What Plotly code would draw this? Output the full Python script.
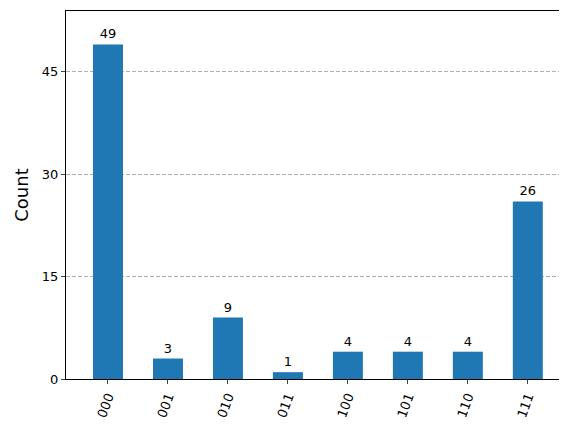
import plotly.graph_objects as go

states = ["000", "001", "010", "011", "100", "101", "110", "111"]
counts = [49, 3, 9, 1, 4, 4, 4, 26]
yticks = [0, 15, 30, 45]

fig = go.Figure(go.Bar(
    x=list(range(len(states))), y=counts, width=0.5,
    marker=dict(color="#1f77b4", line=dict(width=0)),
    text=[str(c) for c in counts], textposition="outside",
    textfont=dict(family="DejaVu Sans", size=13, color="black"),
    cliponaxis=False,
))
fig.update_layout(
    width=567, height=429, plot_bgcolor="white", paper_bgcolor="white",
    margin=dict(l=58, r=10, t=3, b=58),
    font=dict(family="DejaVu Sans", size=13, color="black"),
    showlegend=False,
)
fig.update_xaxes(
    range=[-0.7, 7.62], tickmode="array", tickvals=list(range(len(states))),
    ticktext=states, tickangle=-70, ticks="outside", ticklen=4,
    showline=True, linecolor="black", mirror=True, showgrid=False, zeroline=False,
    automargin=False,
)
fig.update_yaxes(
    range=[0, 53.9], tickvals=yticks, ticks="outside", ticklen=4,
    showline=True, linecolor="black", mirror=True,
    showgrid=True, gridcolor="#b0b0b0", griddash="4px,2px", zeroline=False,
    title=dict(text="Count", font=dict(size=18), standoff=8),
    automargin=False,
)
fig.write_html("out.html")
